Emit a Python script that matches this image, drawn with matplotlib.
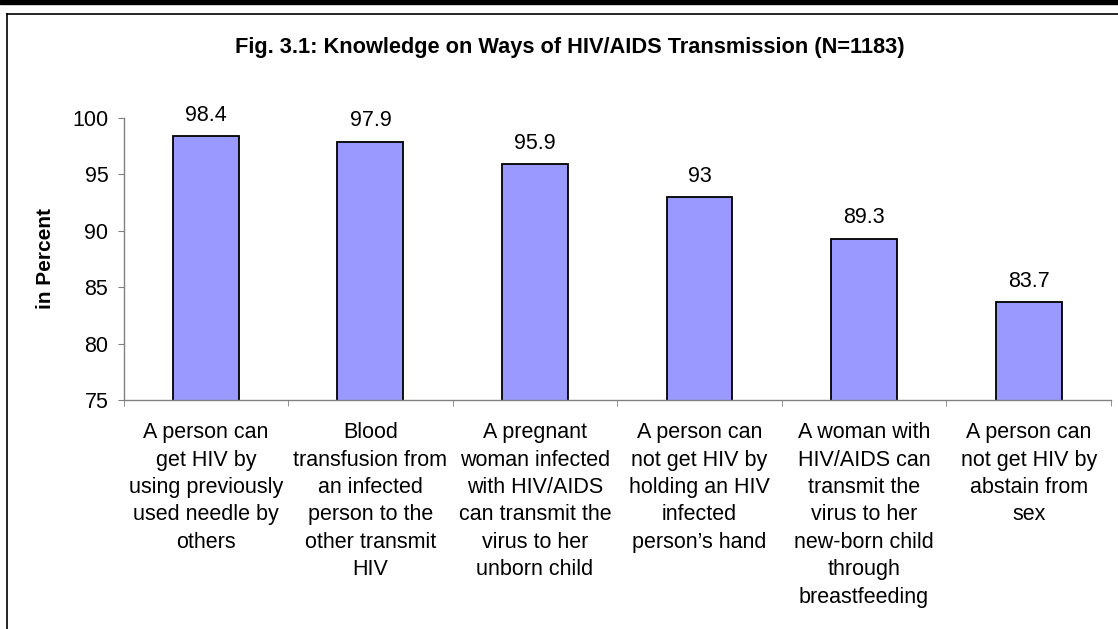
import numpy as np
import matplotlib
matplotlib.use("Agg")
import matplotlib.pyplot as plt
from matplotlib.patches import Rectangle
from matplotlib.lines import Line2D

plt.rcParams['font.family'] = ['Liberation Sans', 'DejaVu Sans']

categories = [
    "A person can\nget HIV by\nusing previously\nused needle by\nothers",
    "Blood\ntransfusion from\nan infected\nperson to the\nother transmit\nHIV",
    "A pregnant\nwoman infected\nwith HIV/AIDS\ncan transmit the\nvirus to her\nunborn child",
    "A person can\nnot get HIV by\nholding an HIV\ninfected\nperson\u2019s hand",
    "A woman with\nHIV/AIDS can\ntransmit the\nvirus to her\nnew-born child\nthrough\nbreastfeeding",
    "A person can\nnot get HIV by\nabstain from\nsex",
]
values = [98.4, 97.9, 95.9, 93, 89.3, 83.7]
value_labels = ["98.4", "97.9", "95.9", "93", "89.3", "83.7"]
yticks = [75, 80, 85, 90, 95, 100]

fig = plt.figure(figsize=(11.18, 6.29), dpi=100)
ax = fig.add_axes([0.1105, 0.3641, 0.8832, 0.4483])

x = np.arange(len(values))
bars = ax.bar(x, values, width=0.4, color='#9999FF', edgecolor='black', linewidth=1.3)

for xi, v, lab in zip(x, values, value_labels):
    ax.annotate(lab, (xi, v), xytext=(0, 11), textcoords='offset points',
                ha='center', va='baseline', fontsize=15.5)

ax.set_ylim(75, 100)
ax.set_xlim(-0.5, len(values) - 0.5)
ax.set_yticks(yticks)
ax.set_yticklabels([str(t) for t in yticks], fontsize=15.5)
ax.set_xticks(x)
ax.set_xticklabels(categories, fontsize=15.5, linespacing=1.4, va='top')
ax.tick_params(axis='x', length=0, pad=16)
ax.set_xticks(np.arange(-0.5, len(values)), minor=True)
ax.tick_params(axis='x', which='minor', length=4, color='#808080', direction='out')
ax.tick_params(axis='y', length=4, color='#808080', direction='out', pad=7)

for s in ['top', 'right']:
    ax.spines[s].set_visible(False)
for s in ['left', 'bottom']:
    ax.spines[s].set_color('#808080')
    ax.spines[s].set_linewidth(1.0)

ax.set_ylabel('in Percent', fontsize=15, fontweight='bold', labelpad=12)

fig.text(0.51, 1 - 53 / 629, 'Fig. 3.1: Knowledge on Ways of HIV/AIDS Transmission (N=1183)',
         ha='center', va='baseline', fontsize=15.7, fontweight='bold')

# page frame bits
fig.patches.append(Rectangle((0, 1 - 4 / 629), 1, 4 / 629, transform=fig.transFigure,
                             color='black', zorder=10))
fig.lines.append(Line2D([7 / 1118, 1], [1 - 14 / 629, 1 - 14 / 629], transform=fig.transFigure,
                        color='black', linewidth=1.2))
fig.lines.append(Line2D([7 / 1118, 7 / 1118], [0, 1 - 14 / 629], transform=fig.transFigure,
                        color='black', linewidth=1.2))

fig.savefig('out.png', dpi=100)
